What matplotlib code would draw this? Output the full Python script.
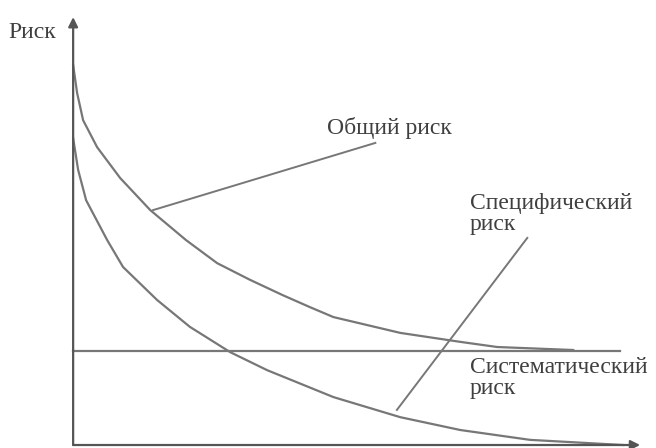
import matplotlib.pyplot as plt

# Portfolio size (x) and risk (y), 0..100 scale
total_x = [0, 0.71, 1.76, 4.23, 8.29, 13.6, 19.9, 25.4, 31.2, 37.0, 41.8,
           45.9, 57.7, 68.3, 74.8, 88.2]
total_y = [88.8, 82.2, 75.9, 69.6, 62.4, 54.9, 47.9, 42.5, 38.6, 35.0, 32.2,
           29.9, 26.2, 24.1, 22.9, 22.2]

specific_x = [0, 0.88, 2.29, 6.0, 8.8, 14.8, 20.6, 27.7, 34.2, 45.9, 57.7,
              68.3, 80.6, 97.0]
specific_y = [71.7, 64.3, 57.2, 47.9, 41.6, 33.9, 27.6, 21.7, 17.5, 11.2, 6.5,
              3.5, 1.2, 0.0]

systematic_x = [0, 96.5]
systematic_y = [22.0, 22.0]

axis_label = "Риск"
labels = ["Общий риск", "Специфический\nриск", "Систематический\nриск"]

line_color = "#777777"
text_color = "#3f3f3f"
font = "Liberation Serif"

fig = plt.figure(figsize=(6.56, 4.48), dpi=100)
ax = fig.add_axes([0, 0, 1, 1])
ax.set_xlim(-12.9, 102.8)
ax.set_ylim(-0.7, 104.0)
ax.axis("off")

# axes with arrows
ax.annotate("", xy=(0, 100), xytext=(0, 0),
            arrowprops=dict(arrowstyle="-|>", color="#555555", lw=1.6,
                            mutation_scale=14, shrinkA=0, shrinkB=0))
ax.annotate("", xy=(100, 0), xytext=(0, 0),
            arrowprops=dict(arrowstyle="-|>", color="#555555", lw=1.6,
                            mutation_scale=14, shrinkA=0, shrinkB=0))

# curves
ax.plot(total_x, total_y, color=line_color, lw=1.6, solid_joinstyle="round")
ax.plot(specific_x, specific_y, color=line_color, lw=1.6, solid_joinstyle="round")
ax.plot(systematic_x, systematic_y, color=line_color, lw=1.6)

# leader lines
ax.plot([14.1, 53.3], [54.9, 70.6], color=line_color, lw=1.4)
ax.plot([57.1, 80.1], [8.2, 48.4], color=line_color, lw=1.4)

# texts
ax.text(-11.5, 96.5, axis_label, fontsize=17, family=font, color=text_color,
        va="center", ha="left")
ax.text(44.8, 74.1, labels[0], fontsize=17, family=font, color=text_color,
        va="center", ha="left")
ax.text(70.0, 59.0, labels[1], fontsize=17, family=font, color=text_color,
        va="top", ha="left", linespacing=1.0)
ax.text(70.0, 20.5, labels[2], fontsize=17, family=font, color=text_color,
        va="top", ha="left", linespacing=1.0)

plt.savefig("out.png", dpi=100)
